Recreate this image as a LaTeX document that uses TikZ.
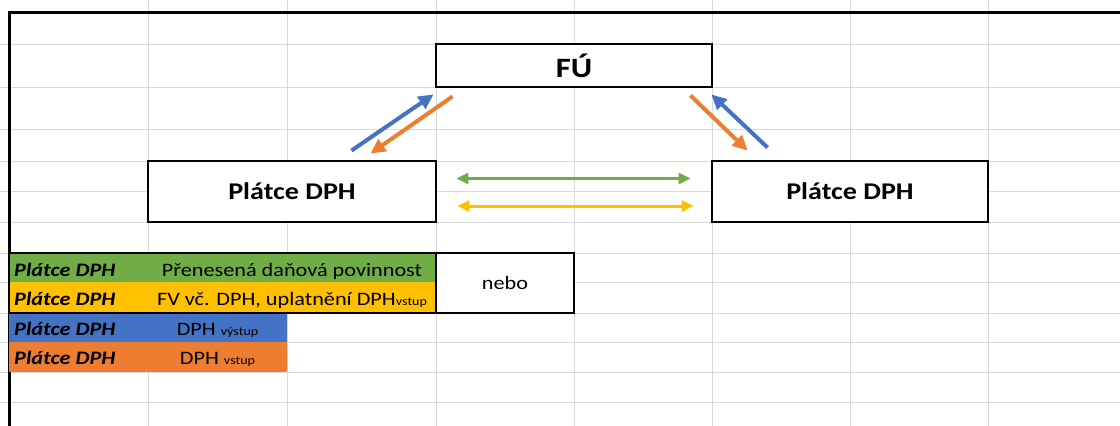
\documentclass[tikz,border=0pt]{standalone}
\usepackage{fontspec}
\setmainfont{Carlito}[FakeStretch=1.17]
\usetikzlibrary{arrows.meta}
\definecolor{mrizka}{HTML}{D9D9D9}
\definecolor{zelena}{HTML}{70AD47}
\definecolor{zluta}{HTML}{FFC000}
\definecolor{modra}{HTML}{4472C4}
\definecolor{oranzova}{HTML}{ED7D31}
\newcommand{\mala}[1]{{\fontsize{12}{14}\selectfont #1}}

\begin{document}
\begin{tikzpicture}[x=1pt,y=-1pt,
		box/.style={draw=black,line width=2.8pt,fill=white,inner sep=0pt,font=\fontsize{24}{28}\selectfont\bfseries},
		sipka/.style={line width=4pt,-{Triangle[length=15pt,width=14pt]}},
		dvoj/.style={line width=3pt,{Triangle[length=12pt,width=11pt]}-{Triangle[length=12pt,width=11pt]}},
		popis/.style={font=\fontsize{19}{23}\selectfont,inner sep=0pt,anchor=base}]
			\useasboundingbox (0,0) rectangle (1120,426);

			% mrizka listu
			\foreach \x in {148,287,436,574,712,850,988}
			\draw[mrizka,line width=1pt] (\x,0) -- (\x,426);
			\foreach \y in {44,87,129,161,191,222,253,282,313,342,372,402}
			\draw[mrizka,line width=1pt] (0,\y) -- (1120,\y);

			\draw[line width=3pt] (9,426) -- (9,12) -- (1120,12);

			\node[box,minimum width=276pt,minimum height=43pt,font=\fontsize{28}{32}\selectfont\bfseries] (fu) at (574,65.5) {FÚ};
			\node[box,minimum width=288pt,minimum height=61pt] (pl) at (292,191.5) {Plátce DPH};
			\node[box,minimum width=276pt,minimum height=61pt] (pp) at (850,191.5) {Plátce DPH};

			\draw[sipka,modra] ([xshift=-86pt,yshift=9pt]pl.north east) -- ([xshift=-1pt,yshift=-6pt]fu.south west);
			\draw[sipka,oranzova] ([xshift=18pt,yshift=-8pt]fu.south west) -- ([xshift=-67pt,yshift=6pt]pl.north east);
			\draw[sipka,oranzova] ([xshift=-23pt,yshift=-7pt]fu.south east) -- ([xshift=37pt,yshift=9pt]pp.north west);
			\draw[sipka,modra] ([xshift=57pt,yshift=12pt]pp.north west) -- ([xshift=-2pt,yshift=-6pt]fu.south east);

			\draw[dvoj,zelena] ([xshift=19pt,yshift=13pt]pl.east) -- ([xshift=-20pt,yshift=13pt]pp.west);
			\draw[dvoj,zluta] ([xshift=20pt,yshift=-14.5pt]pl.east) -- ([xshift=-17pt,yshift=-14.5pt]pp.west);

			% legenda
			\fill[zelena] (9,253) rectangle (436,282);
			\fill[zluta] (9,282) rectangle (436,313);
			\fill[modra] (9,313) rectangle (287,342);
			\fill[oranzova] (9,342) rectangle (287,372);
			\node[draw,fill=white,line width=1.5pt,minimum width=138pt,minimum height=60pt,inner sep=0pt,font=\fontsize{19}{23}\selectfont] (nebo) at (505,283) {nebo};
			\draw[line width=1.5pt] (9,253) rectangle (574,313);

			\foreach \y/\n in {276/p1,305.5/p2,335.5/p3,364.5/p4}
			\node[popis,anchor=base west,font=\fontsize{19}{23}\selectfont\bfseries\itshape] (\n) at (14,\y) {Plátce DPH};

			\node[popis] (t1) at (292,276) {Přenesená daňová povinnost};
			\node[popis] (t2) at (292,305.5) {FV vč. DPH, uplatnění DPH\mala{vstup}};
			\node[popis] (t3) at (217.5,335.5) {DPH \mala{výstup}};
			\node[popis] (t4) at (217.5,364.5) {DPH \mala{vstup}};
		\end{tikzpicture}
\end{document}
